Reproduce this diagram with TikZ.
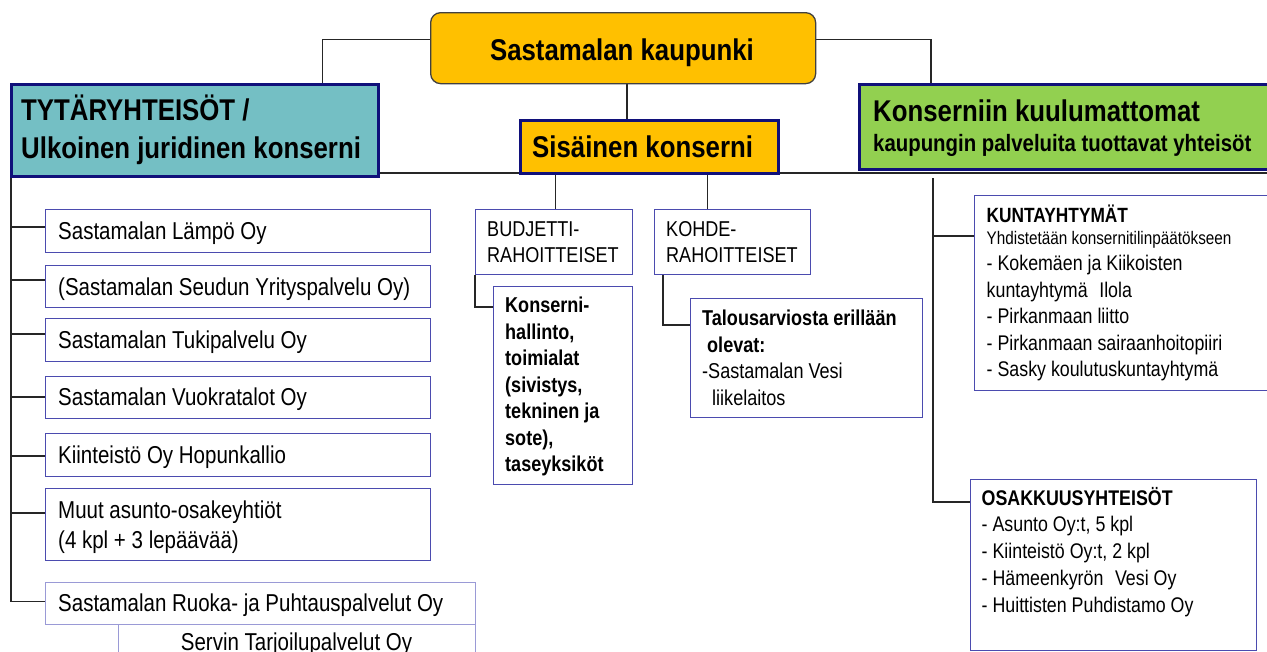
\documentclass[tikz,border=0pt]{standalone}
\usepackage{fontspec}
\usetikzlibrary{backgrounds}
\setmainfont{Liberation Sans}[FakeStretch=0.84]
\newfontfamily\hfont{Liberation Sans}[FakeStretch=0.86]
\definecolor{orng}{HTML}{FFC000}
\definecolor{tealc}{HTML}{74BFC4}
\definecolor{grnc}{HTML}{92D050}
\definecolor{navyc}{HTML}{10107A}
\definecolor{boxblue}{HTML}{4B4BAF}
\definecolor{lightblue}{HTML}{9A9AD6}
\definecolor{topline}{HTML}{404040}
\begin{document}
\begin{tikzpicture}[x=1pt,y=-1pt,
  conn/.style={draw=black!85,line width=1.4},
  hd/.style={draw=navyc,line width=3.2,anchor=north west,inner sep=0},
  lb/.style={draw=boxblue,line width=1.4,fill=white,anchor=north west,inner sep=0},
  lbl/.style={draw=lightblue,line width=1.3,fill=white,anchor=north west,inner sep=0},
  tx/.style={anchor=base west,inner sep=0},
  mt/.style={anchor=north west,inner sep=0,align=left},
  fL/.style={font=\fontsize{24.4}{30}\selectfont},
  fM/.style={font=\fontsize{21.5}{26.5}\selectfont},
  fMb/.style={font=\fontsize{21.5}{26.5}\selectfont\bfseries},
  fR/.style={font=\fontsize{21.2}{26.5}\selectfont},
  fRo/.style={font=\fontsize{21.2}{26.75}\selectfont},
  fH/.style={font=\hfont\bfseries\fontsize{30}{36}\selectfont},
  fHs/.style={font=\hfont\bfseries\fontsize{23.7}{28}\selectfont}
]
\useasboundingbox (0,0) rectangle (1267,651);
\clip (0,0) rectangle (1267,651);

% ---------- boxes ----------
\node[draw=topline,line width=1.3,fill=orng,rounded corners=10,anchor=north west,
      minimum width=385,minimum height=71,inner sep=0] (top) at (430,12) {};
\node[hd,fill=tealc,minimum width=367,minimum height=92] (tyt) at (10,83) {};
\node[hd,fill=orng,minimum width=258,minimum height=53] (sis) at (519,119) {};
\node[hd,fill=grnc,minimum width=420,minimum height=85] (grnb) at (858,83) {};

\coordinate (hl) at (378,173);
\coordinate (hr) at (1267,173);
\coordinate (lt) at (11,178);
\coordinate (rt) at (933,178);

\node[lb,minimum width=385,minimum height=43] (l1) at (45,209) {};
\node[lb,minimum width=385,minimum height=42] (l2) at (45,265) {};
\node[lb,minimum width=385,minimum height=43] (l3) at (45,318) {};
\node[lb,minimum width=385,minimum height=42] (l4) at (45,376) {};
\node[lb,minimum width=385,minimum height=43] (l5) at (45,433) {};
\node[lb,minimum width=385,minimum height=72] (l6) at (45,488) {};
\node[lbl,minimum width=430,minimum height=42] (rk) at (45,581.5) {};
\node[lbl,minimum width=357,minimum height=60] (sv) at (118,623.5) {};

\node[lb,minimum width=157,minimum height=65] (bud) at (475,209) {};
\node[lb,minimum width=156,minimum height=65] (koh) at (654,209) {};
\node[lb,minimum width=139,minimum height=198] (kons) at (493,286) {};
\node[lb,minimum width=232,minimum height=119] (tal) at (690,298) {};

\node[lb,minimum width=320,minimum height=195] (kun) at (974,194.5) {};
\node[lb,minimum width=286,minimum height=171] (osak) at (969.5,479) {};

% ---------- connectors (behind the boxes) ----------
\begin{scope}[on background layer]
\fill[white] (0,0) rectangle (1267,651);
\coordinate (tq) at ([xshift=312.5]tyt.north west);
\coordinate (gq) at ([xshift=73]grnb.north west);
\coordinate (sq) at ([xshift=4]top.south);
\coordinate (bq) at ([xshift=80.5]bud.north west);
\coordinate (kq) at ([xshift=53.5]koh.north west);
\draw[conn] ([yshift=8.5]top.west) -| (tq);
\draw[conn] ([yshift=8.5]top.east) -| (gq);
\draw[conn] (sq) -- (sq |- sis.north);
\draw[conn] (hl) -- (hr);
\draw[conn] (bq) -- (bq |- hl);
\draw[conn] (kq) -- (kq |- hl);
\draw[conn] (bud.south west) |- ([yshift=-21]kons.north west);
\draw[conn] ([xshift=9]koh.south west) |- ([yshift=-27]tal.north west);
\foreach \b/\d in {l1/18,l2/15,l3/16,l4/21,l5/23,l6/25,rk/20}
  \draw[conn] ([yshift=-\d]\b.north west) -| (lt);
\draw[conn] ([yshift=-41.5]kun.north west) -| (rt);
\draw[conn] ([yshift=-23]osak.north west) -| (rt);
\end{scope}

% ---------- texts ----------
\node[anchor=base,inner sep=0,fH] (topT) at (622,60) {Sastamalan kaupunki};
\node[tx,fH] (tyt1) at (21,120) {TYTÄRYHTEISÖT /};
\node[tx,fH] (tyt2) at (21,158) {Ulkoinen juridinen konserni};
\node[tx,fH] (sisT) at (532,157) {Sisäinen konserni};
\node[tx,fH] (grn1) at (873,121) {Konserniin kuulumattomat};
\node[tx,fHs] (grn2) at (873,151) {kaupungin palveluita tuottavat yhteisöt};

\node[tx,fL] (t1) at (58,239.5) {Sastamalan Lämpö Oy};
\node[tx,fL] (t2) at (58,295) {(Sastamalan Seudun Yrityspalvelu Oy)};
\node[tx,fL] (t3) at (58,348) {Sastamalan Tukipalvelu Oy};
\node[tx,fL] (t4) at (58,405.5) {Sastamalan Vuokratalot Oy};
\node[tx,fL] (t5) at (58,463) {Kiinteistö Oy Hopunkallio};
\node[mt,fL] (t6) at (58,498) {\rule{0pt}{20pt}Muut asunto-osakeyhtiöt\\(4 kpl + 3 lepäävää)};
\node[tx,fL] (t7) at (58,611.5) {Sastamalan Ruoka- ja Puhtauspalvelut Oy};
\node[anchor=base,inner sep=0,fL] (t8) at (296.5,650.5) {Servin Tarjoilupalvelut Oy};

\node[mt,fM] (budT) at (487,218) {\rule{0pt}{18pt}BUDJETTI-\\RAHOITTEISET};
\node[mt,fM] (kohT) at (666,218) {\rule{0pt}{18pt}KOHDE-\\RAHOITTEISET};
\node[mt,fMb] (konsT) at (505,294.7) {\rule{0pt}{18pt}Konserni-\\hallinto,\\toimialat\\(sivistys,\\tekninen ja\\sote),\\taseyksiköt};
\node[mt,fM] (talT) at (702,307.7) {\rule{0pt}{18pt}{\bfseries Talousarviosta erillään}\\\hspace*{5pt}{\bfseries olevat:}\\-Sastamalan Vesi\\\hspace*{10pt}liikelaitos};

\node[mt,fR] (kunT) at (986.5,201) {\rule{0pt}{21pt}{\bfseries\fontsize{20.6}{26.5}\selectfont KUNTAYHTYMÄT}\\[-4.3pt]{\fontsize{18.2}{26.5}\selectfont Yhdistetään konsernitilinpäätökseen}\\- Kokemäen ja Kiikoisten\\kuntayhtymä\hspace{0.55em}Ilola\\- Pirkanmaan liitto\\- Pirkanmaan sairaanhoitopiiri\\- Sasky koulutuskuntayhtymä};
\node[mt,fRo] (osakT) at (981.5,484) {\rule{0pt}{21pt}{\bfseries OSAKKUUSYHTEISÖT}\\- Asunto Oy:t, 5 kpl\\- Kiinteistö Oy:t, 2 kpl\\- Hämeenkyrön\hspace{0.55em}Vesi Oy\\- Huittisten Puhdistamo Oy};
\end{tikzpicture}
\end{document}
